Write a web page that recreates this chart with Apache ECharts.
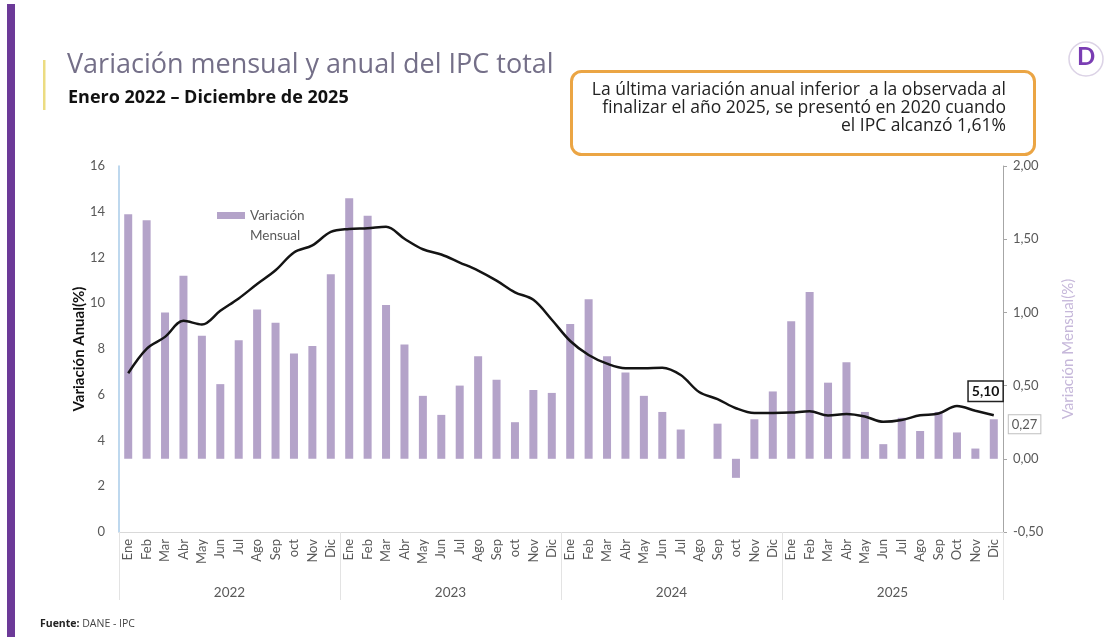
<!DOCTYPE html>
<html>
<head>
<meta charset="utf-8">
<script src="https://cdn.jsdelivr.net/npm/echarts@6/dist/echarts.min.js"></script>
<style>
html,body{margin:0;padding:0;background:#fff;}
#c{width:1106px;height:637px;}
</style>
</head>
<body>
<div id="c"></div>
<script>
// ---- data ----
const months2022 = ['Ene','Feb','Mar','Abr','May','Jun','Jul','Ago','Sep','oct','Nov','Dic'];
const months2023 = ['Ene','Feb','Mar','Abr','May','Jun','Jul','Ago','Sep','oct','Nov','Dic'];
const months2024 = ['Ene','Feb','Mar','Abr','May','Jun','Jul','Ago','Sep','oct','Nov','Dic'];
const months2025 = ['Ene','Feb','Mar','Abr','May','Jun','Jul','Ago','Sep','Oct','Nov','Dic'];
const years = ['2022','2023','2024','2025'];
const monthly2022 = [1.67,1.63,1.00,1.25,0.84,0.51,0.81,1.02,0.93,0.72,0.77,1.26];
const monthly2023 = [1.78,1.66,1.05,0.78,0.43,0.30,0.50,0.70,0.54,0.25,0.47,0.45];
const monthly2024 = [0.92,1.09,0.70,0.59,0.43,0.32,0.20,0.00,0.24,-0.13,0.27,0.46];
const monthly2025 = [0.94,1.14,0.52,0.66,0.32,0.10,0.28,0.19,0.32,0.18,0.07,0.27];
const annual2022 = [6.94,8.01,8.53,9.23,9.07,9.67,10.21,10.84,11.44,12.22,12.53,13.12];
const annual2023 = [13.25,13.28,13.34,12.82,12.36,12.13,11.78,11.43,10.99,10.48,10.15,9.28];
const annual2024 = [8.35,7.74,7.36,7.16,7.16,7.18,6.86,6.12,5.81,5.41,5.20,5.20];
const annual2025 = [5.22,5.28,5.09,5.16,5.05,4.82,4.90,5.10,5.18,5.51,5.30,5.10];
const leftTicks = {min:0, max:16, interval:2};
const rightTicks = {min:-0.5, max:2, interval:0.5};

// ---- build ----
const categories = [].concat(months2022, months2023, months2024, months2025);
const monthly = [].concat(monthly2022, monthly2023, monthly2024, monthly2025);
const annual = [].concat(annual2022, annual2023, annual2024, annual2025);
const comma = v => Number(v).toFixed(2).replace('.', ',');
const FONT = 'Lato';
const SANS = 'Open Sans';

const barData = monthly.map((v, i) => {
  if (i === monthly.length - 1) {
    return {
      value: v,
      label: {
        show: true, position: [19, -4], formatter: p => comma(p.value),
        color: '#595959', fontSize: 13, fontFamily: FONT,
        borderColor: '#bfbfbf', borderWidth: 1, padding: [3, 3, 2, 3], backgroundColor: '#fff'
      }
    };
  }
  return v;
});

const chart = echarts.init(document.getElementById('c'), null, {renderer: 'canvas'});
chart.setOption({
  backgroundColor: '#ffffff',
  textStyle: {fontFamily: FONT},
  animation: false,
  grid: {left: 119, right: 103, top: 166, bottom: 105, containLabel: false},
  legend: {
    data: ['Variación Mensual'],
    left: 212, top: 201,
    icon: 'path://M0,0L0.1,0L0.1,0.1Z M0,6L28,6L28,13L0,13Z M0,40L0.1,40L0.1,39.9Z',
    itemWidth: 28, itemHeight: 40, itemGap: 6,
    formatter: () => 'Variación\nMensual',
    textStyle: {color: '#595959', fontSize: 13.5, lineHeight: 20, fontFamily: FONT}
  },
  xAxis: [
    {
      type: 'category', data: categories, position: 'bottom',
      axisLine: {show: true, onZero: false, lineStyle: {color: '#d9d9d9', width: 1}},
      axisTick: {show: false},
      axisLabel: {interval: 0, rotate: 90, color: '#595959', fontSize: 13, margin: 7, fontFamily: FONT},
      splitLine: {show: false}
    },
    {
      type: 'category', data: years, position: 'bottom',
      axisLine: {show: false, onZero: false},
      axisTick: {show: true, length: 68, lineStyle: {color: '#e3e3e3', width: 1}},
      axisLabel: {color: '#595959', fontSize: 13.5, margin: 54, fontFamily: FONT},
      splitLine: {show: false}
    }
  ],
  yAxis: [
    {
      type: 'value', min: leftTicks.min, max: leftTicks.max, interval: leftTicks.interval,
      position: 'left',
      name: 'Variación Anual(%)', nameLocation: 'middle', nameGap: 32, nameMoveOverlap: false,
      nameTextStyle: {color: '#111', fontSize: 15, fontWeight: 'bold', fontFamily: FONT},
      axisLine: {show: true, lineStyle: {color: '#a9cbe8', width: 1.5}},
      axisTick: {show: false},
      axisLabel: {color: '#595959', fontSize: 13, margin: 14, fontFamily: FONT},
      splitLine: {show: false}
    },
    {
      type: 'value', min: rightTicks.min, max: rightTicks.max, interval: rightTicks.interval,
      position: 'right',
      name: 'Variación Mensual(%)', nameLocation: 'middle', nameGap: 58,
      nameTextStyle: {color: '#c6b8da', fontSize: 15, fontFamily: FONT},
      axisLine: {show: true, lineStyle: {color: '#a6a6a6', width: 1}},
      axisTick: {show: true, inside: false, length: 4, lineStyle: {color: '#a6a6a6'}},
      axisLabel: {color: '#595959', fontSize: 13, margin: 10, formatter: v => comma(v), fontFamily: FONT},
      splitLine: {show: false}
    }
  ],
  series: [
    {
      name: 'Variación Mensual', type: 'bar', xAxisIndex: 0, yAxisIndex: 1,
      data: barData, barWidth: 8,
      itemStyle: {color: '#b4a3c9'},
      z: 2
    },
    {
      name: 'Variación Anual', type: 'line', xAxisIndex: 0, yAxisIndex: 0,
      data: annual, smooth: 0.35, showSymbol: false, symbol: 'none',
      lineStyle: {color: '#141414', width: 2.5},
      itemStyle: {color: '#141414'},
      endLabel: {
        show: true, formatter: p => comma(p.value),
        offset: [-25, -24], distance: 0,
        color: '#111', fontWeight: 'bold', fontSize: 14, fontFamily: FONT,
        backgroundColor: '#fff', borderColor: '#222', borderWidth: 1.5, padding: [3, 3, 2, 3]
      },
      z: 3
    }
  ],
  graphic: [
    {type: 'rect', left: 7, top: 4, shape: {width: 8, height: 633}, style: {fill: '#6c3a98'}},
    {type: 'rect', left: 43, top: 60, shape: {width: 2.5, height: 50}, style: {fill: '#ecdc82'}},
    {type: 'text', x: 67, y: 52, style: {text: 'Variación mensual y anual del IPC total', fontSize: 27, fontFamily: SANS, fill: '#746f88'}},
    {type: 'text', x: 68, y: 89, style: {text: 'Enero 2022 – Diciembre de 2025', fontSize: 18, fontFamily: SANS, fontWeight: 'bold', fill: '#111'}},
    {type: 'rect', left: 570, top: 70, shape: {width: 463, height: 83, r: 10}, style: {fill: '#fff', stroke: '#eba544', lineWidth: 3}, z: 10},
    {type: 'text', x: 1006, y: 81, z: 11, style: {
      text: 'La última variación anual inferior  a la observada al\nfinalizar el año 2025, se presentó en 2020 cuando\nel IPC alcanzó 1,61%',
      fontSize: 17.5, lineHeight: 18, align: 'right', verticalAlign: 'top', fontFamily: SANS, fill: '#222'}},
    {type: 'circle', shape: {cx: 1086, cy: 59, r: 17}, style: {fill: '#fff', stroke: '#dcd3e6', lineWidth: 1.5}},
    {type: 'text', x: 1077, y: 45, style: {text: 'D', fontSize: 24, fontWeight: 'bold', fontFamily: FONT, fill: '#7a3db3'}},
    {type: 'text', x: 40, y: 619, style: {
      text: '{b|Fuente:} DANE - IPC', fontSize: 10.5, fontFamily: SANS, fill: '#444',
      rich: {b: {fontWeight: 'bold', fontSize: 10.5, fontFamily: SANS, fill: '#222'}}}}
  ]
});
</script>
</body>
</html>
